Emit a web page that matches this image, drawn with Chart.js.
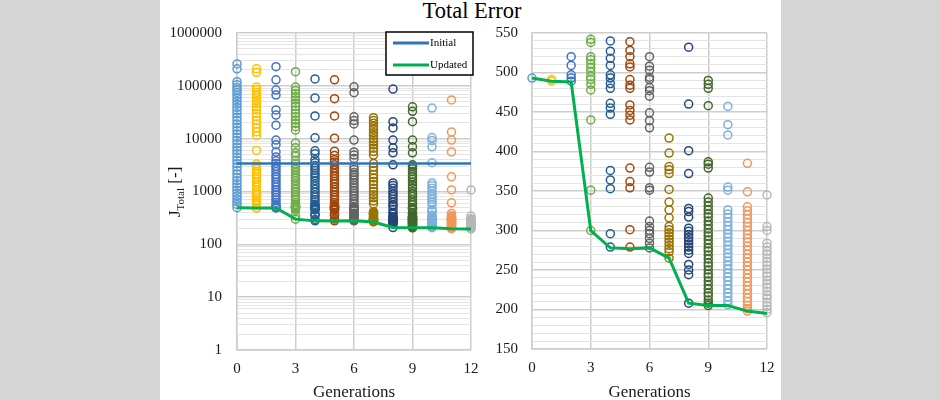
<!DOCTYPE html>
<html>
<head>
<meta charset="utf-8">
<script src="https://cdn.jsdelivr.net/npm/chart.js@4.4.0/dist/chart.umd.min.js"></script>
<style>
  body { margin: 0; width: 940px; height: 400px; position: relative; overflow: hidden; background: #fff; font-family: "Liberation Serif", serif; }
  .side { position: absolute; top: 0; height: 400px; background: #d5d5d5; }
  #title { position: absolute; left: 0; top: 0; width: 944px; text-align: center; font-size: 22.5px; line-height: 22px; color: #000; }
  canvas { position: absolute; top: 0; }
</style>
</head>
<body>
<div class="side" style="left:0;width:160px"></div>
<div class="side" style="left:781px;width:159px"></div>
<div id="title">Total Error</div>
<canvas id="logChart" width="320" height="400" style="left:160px"></canvas>
<canvas id="linChart" width="300" height="400" style="left:480px"></canvas>
<script>
// --- data ---
const generations = [0, 1, 2, 3, 4, 5, 6, 7, 8, 9, 10, 11, 12];
const initialError = [3400, 3400, 3400, 3400, 3400, 3400, 3400, 3400, 3400, 3400, 3400, 3400, 3400];
const updatedError = [493, 489, 488, 300, 278, 277, 278, 265, 208, 205, 205, 198, 195];

const genColors = ["#5b9bd5", "#ffc000", "#4472c4", "#70ad47", "#255e91", "#9e480e", "#636363",
  "#997300", "#264478", "#43682b", "#7cafdd", "#f1975a", "#b7b7b7"];

const gen0 = [260000, 210000, 120000, 105000, 93000, 84000, 75000, 66000, 58000, 51000, 45000, 39000, 34000,
  29500, 25500, 22000, 19000, 16500, 14200, 12300, 10600, 9200, 8000, 6900, 6000, 5200, 4500, 3900, 3350,
  2900, 2500, 2150, 1850, 1600, 1400, 1220, 1060, 930, 820, 720, 640, 570, 493];
const gen1 = [210000, 180000, 95000, 85000, 76000, 68000, 60000, 52000, 46000, 40000, 35000, 30000, 26000,
  22000, 19000, 16000, 13500, 11500, 6000, 3300, 3000, 2700, 2400, 2150, 1900, 1700, 1520, 1360, 1210,
  1080, 960, 860, 770, 700, 640, 590, 556, 491, 489];
const gen2 = [230000, 130000, 83000, 67000, 35000, 28000, 18000, 9400, 7700, 5600, 4500, 3800, 3400, 3000,
  2700, 2400, 2100, 1900, 1700, 1500, 1350, 1200, 1080, 960, 860, 770, 690, 620, 560, 520, 509, 497, 493, 489];
const gen3 = [185000, 95000, 82000, 71000, 62000, 54000, 47000, 41000, 35000, 30000, 26000, 22500, 19500,
  16800, 14500, 8300, 6700, 5400, 4700, 3800, 3300, 2900, 2600, 2300, 2000, 1800, 1600, 1400, 1250, 1100,
  980, 870, 770, 690, 620, 570, 542, 538, 520, 516, 511, 506, 501, 495, 491, 485, 478, 440, 351, 300];
const gen4 = [135000, 59000, 27000, 10400, 5900, 5200, 4000, 3500, 3100, 2800, 2500, 2200, 2000, 1800, 1600,
  1400, 1250, 1100, 980, 870, 780, 700, 630, 570, 540, 527, 518, 509, 497, 493, 486, 480, 461, 455, 447,
  376, 364, 353, 296, 279];
const gen5 = [130000, 57000, 27000, 10200, 5800, 4800, 4000, 3600, 3200, 2800, 2500, 2200, 1950, 1750, 1550,
  1380, 1220, 1090, 970, 860, 770, 690, 620, 560, 539, 528, 520, 511, 507, 491, 484, 480, 459, 452, 446,
  440, 379, 362, 354, 301, 279];
const gen6 = [96000, 74000, 26000, 22000, 19000, 9400, 5600, 4900, 4200, 2900, 2600, 2300, 2050, 1850, 1650,
  1450, 1300, 1150, 1030, 920, 820, 730, 650, 580, 520, 508, 503, 494, 491, 481, 477, 470, 449, 439, 430,
  380, 374, 354, 351, 312, 305, 300, 296, 290, 284, 278];
const gen7 = [25000, 22000, 19500, 17000, 15000, 13000, 11500, 10000, 8700, 7600, 6600, 5700, 4900, 3400,
  2900, 2500, 2100, 1800, 1550, 1350, 1150, 1000, 870, 760, 660, 580, 417, 398, 381, 377, 372, 352, 336,
  326, 316, 305, 301, 297, 293, 289, 285, 281, 277, 273, 265];
const gen8 = [87000, 21000, 16000, 9400, 6700, 5400, 3200, 1450, 1300, 1150, 1000, 900, 800, 710, 630, 560,
  532, 460, 401, 372, 328, 324, 317, 303, 299, 295, 291, 287, 283, 279, 275, 271, 257, 250, 244, 208];
const gen9 = [40000, 33000, 21000, 9400, 7000, 5400, 3200, 3000, 2700, 2400, 2100, 1900, 1700, 1500, 1300,
  1150, 1000, 900, 800, 700, 620, 560, 490, 485, 480, 458, 387, 384, 379, 341, 336, 331, 326, 321, 317, 312,
  307, 302, 297, 293, 288, 283, 278, 274, 269, 264, 259, 255, 250, 245, 241, 236, 231, 226, 221, 217, 212,
  208, 205];
const gen10 = [38000, 10500, 9200, 7000, 3500, 1450, 1300, 1150, 1020, 900, 800, 710, 630, 560, 457, 434, 421,
  355, 351, 326, 321, 316, 311, 306, 301, 296, 291, 286, 281, 276, 271, 266, 261, 256, 251, 246, 241, 236,
  231, 226, 221, 216, 211, 206];
const gen11 = [54000, 13400, 9400, 5600, 1900, 1070, 610, 385, 349, 330, 325, 320, 315, 310, 305, 300, 295,
  290, 285, 280, 275, 270, 265, 260, 255, 250, 245, 240, 235, 230, 225, 220, 215, 210, 205, 201, 198];
const gen12 = [1070, 345, 305, 300, 284, 279, 274, 270, 265, 260, 256, 251, 246, 242, 237, 232, 228, 223, 218,
  214, 209, 204, 200, 196];

const genValues = [gen0, gen1, gen2, gen3, gen4, gen5, gen6, gen7, gen8, gen9, gen10, gen11, gen12];
const decades = [1, 10, 100, 1000, 10000, 100000, 1000000];

// --- helpers ---
const serif = '"Liberation Serif", "Times New Roman", serif';
const tickColor = "#1a1a1a";
const majorGrid = "#cdcdcd";
const minorGrid = "#e4e4e4";

const logTicks = [];
decades.slice(0, -1).forEach((d) => {
  for (let m = 1; m <= 9; m++) logTicks.push(d * m);
});
logTicks.push(1000000);

function scatterSets(maxValue) {
  return genValues.map((vals, g) => ({
    type: "scatter",
    data: vals.filter((v) => v <= maxValue).map((v) => ({ x: generations[g], y: v })),
    showLine: false,
    pointStyle: "circle",
    pointRadius: 4,
    pointHoverRadius: 4,
    pointBorderWidth: 1.5,
    pointBorderColor: genColors[g],
    pointBackgroundColor: "rgba(0,0,0,0)",
    clip: false,
  }));
}

function lineSet(values, color, width) {
  return {
    type: "scatter",
    data: values.map((v, i) => ({ x: generations[i], y: v })),
    showLine: true,
    borderColor: color,
    borderWidth: width,
    pointRadius: 0,
    tension: 0,
    clip: false,
  };
}

const xTitle = {
  id: "xTitle",
  afterDraw(chart) {
    const { ctx, chartArea } = chart;
    ctx.save();
    ctx.font = "17px " + serif;
    ctx.fillStyle = tickColor;
    ctx.textAlign = "center";
    ctx.textBaseline = "alphabetic";
    ctx.fillText("Generations", (chartArea.left + chartArea.right) / 2, 397);
    ctx.restore();
  },
};

// y title with subscript and the legend box, left chart only
const leftExtras = {
  id: "leftExtras",
  afterDraw(chart) {
    const ctx = chart.ctx;
    ctx.save();
    ctx.translate(20, 217);
    ctx.rotate(-Math.PI / 2);
    ctx.fillStyle = tickColor;
    ctx.textAlign = "left";
    ctx.textBaseline = "alphabetic";
    ctx.font = "17px " + serif;
    ctx.fillText("J", 0, 0);
    let x = ctx.measureText("J").width;
    ctx.font = "11px " + serif;
    ctx.fillText("Total", x, 4);
    x += ctx.measureText("Total").width;
    ctx.font = "17px " + serif;
    ctx.fillText(" [-]", x, 0);
    ctx.restore();

    // legend
    ctx.save();
    ctx.fillStyle = "#fff";
    ctx.fillRect(226, 32, 87, 43);
    ctx.strokeStyle = "#000";
    ctx.lineWidth = 1.5;
    ctx.strokeRect(226, 32, 87, 43);
    const items = [["Initial", "#2e75b6", 43], ["Updated", "#00b050", 65]];
    items.forEach(([label, color, y]) => {
      ctx.strokeStyle = color;
      ctx.lineWidth = 3;
      ctx.beginPath();
      ctx.moveTo(233, y);
      ctx.lineTo(269, y);
      ctx.stroke();
      ctx.fillStyle = "#000";
      ctx.font = "11px " + serif;
      ctx.textBaseline = "middle";
      ctx.fillText(label, 270, y);
    });
    ctx.restore();
  },
};

const xAxis = (h) => ({
  type: "linear",
  min: 0,
  max: 12,
  ticks: { stepSize: 3, padding: 10, color: tickColor, font: { family: serif, size: 15 } },
  grid: { color: majorGrid, lineWidth: 1.5, drawTicks: false },
  border: { color: majorGrid, width: 1.5 },
  afterFit: (s) => {
    s.height = h;
    s.paddingLeft = 0;
    s.paddingRight = 0;
  },
});

const baseOptions = {
  responsive: false,
  animation: false,
  devicePixelRatio: 1,
  events: [],
  plugins: { legend: { display: false }, tooltip: { enabled: false } },
};

// --- left chart: log scale ---
new Chart(document.getElementById("logChart"), {
  type: "scatter",
  data: {
    datasets: [
      lineSet(initialError, "#2e75b6", 2.5),
      lineSet(updatedError, "#00b050", 3),
      ...scatterSets(Infinity),
    ],
  },
  options: {
    ...baseOptions,
    layout: { padding: { top: 33, right: 9, left: 0, bottom: 0 } },
    scales: {
      x: xAxis(50),
      y: {
        type: "logarithmic",
        min: 1,
        max: 1000000,
        afterBuildTicks: (s) => { s.ticks = logTicks.map((v) => ({ value: v })); },
        ticks: {
          autoSkip: false,
          padding: 15,
          color: tickColor,
          font: { family: serif, size: 15 },
          callback: (v) => (decades.includes(v) ? String(v) : ""),
        },
        grid: {
          drawTicks: false,
          color: (c) => (c.tick && decades.includes(c.tick.value) ? majorGrid : minorGrid),
          lineWidth: (c) => (c.tick && decades.includes(c.tick.value) ? 1.5 : 1),
        },
        border: { color: majorGrid, width: 1.5 },
        afterFit: (s) => { s.width = 77; },
      },
    },
  },
  plugins: [xTitle, leftExtras],
});

// --- right chart: linear zoom ---
new Chart(document.getElementById("linChart"), {
  type: "scatter",
  data: {
    datasets: [
      lineSet(updatedError, "#00b050", 3),
      ...scatterSets(545),
    ],
  },
  options: {
    ...baseOptions,
    layout: { padding: { top: 33, right: 13, left: 0, bottom: 0 } },
    scales: {
      x: xAxis(51),
      y: {
        type: "linear",
        min: 150,
        max: 550,
        ticks: {
          stepSize: 10,
          autoSkip: false,
          padding: 14,
          color: tickColor,
          font: { family: serif, size: 15 },
          callback: (v) => (v % 50 === 0 ? String(v) : ""),
        },
        grid: {
          drawTicks: false,
          color: (c) => (c.tick && c.tick.value % 50 === 0 ? majorGrid : minorGrid),
          lineWidth: (c) => (c.tick && c.tick.value % 50 === 0 ? 1.5 : 1),
        },
        border: { color: majorGrid, width: 1.5 },
        afterFit: (s) => { s.width = 52; },
      },
    },
  },
  plugins: [xTitle],
});
</script>
</body>
</html>
